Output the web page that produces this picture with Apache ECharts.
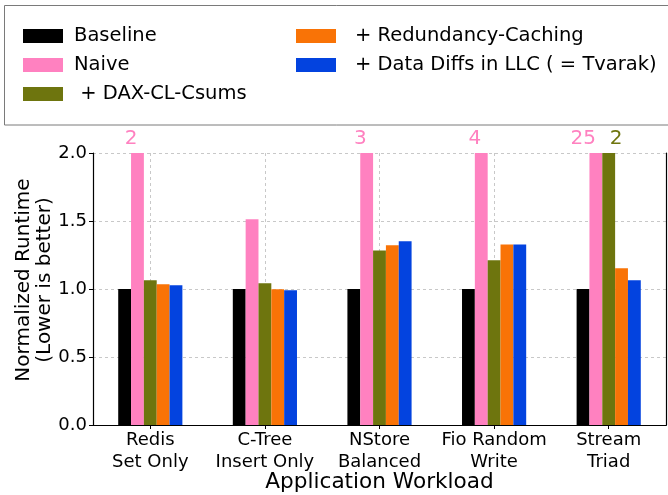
<!DOCTYPE html>
<html>
<head>
<meta charset="utf-8">
<script src="https://cdn.jsdelivr.net/npm/echarts@6/dist/echarts.min.js"></script>
<style>html,body{margin:0;padding:0;background:#fff;}#c{width:668px;height:495px;}</style>
</head>
<body>
<div id="c"></div>
<script>
const categories = ['Redis\nSet Only', 'C-Tree\nInsert Only', 'NStore\nBalanced', 'Fio Random\nWrite', 'Stream\nTriad'];
const seriesNames = ['Baseline', 'Naive', ' + DAX-CL-Csums', '+ Redundancy-Caching', '+ Data Diffs in LLC ( = Tvarak)'];
const baseline = [1.0, 1.0, 1.0, 1.0, 1.0];
const naive = [2, 1.513, 3, 4, 25];
const daxClCsums = [1.064, 1.042, 1.284, 1.211, 2];
const redundancyCaching = [1.035, 0.998, 1.321, 1.328, 1.152];
const dataDiffs = [1.027, 0.990, 1.351, 1.328, 1.064];
const yTicks = [0.0, 0.5, 1.0, 1.5, 2.0];
const colors = ['#000000', '#ff81c0', '#6e750e', '#f97306', '#0343df'];
const Y_MAX = 2.0;

const font = 'DejaVu Sans';
const allData = [baseline, naive, daxClCsums, redundancyCaching, dataDiffs];

function mkSeries(i) {
  const raw = allData[i];
  const s = {
    name: seriesNames[i],
    type: 'bar',
    data: raw.map(v => Math.min(v, Y_MAX)),
    itemStyle: { color: colors[i] },
    barGap: '0%',
    barCategoryGap: '44%',
    z: 3
  };
  if (i === 1 || i === 2) {
    s.label = {
      show: true,
      position: 'top',
      distance: 4,
      align: i === 1 ? 'right' : 'left',
      offset: i === 1 ? [0, 0] : [1, 0],
      fontFamily: font,
      fontSize: 20,
      color: colors[i],
      formatter: p => (raw[p.dataIndex] >= Y_MAX ? String(Math.round(raw[p.dataIndex])) : '')
    };
  }
  return s;
}

const chart = echarts.init(document.getElementById('c'), null, { renderer: 'canvas' });
chart.setOption({
  animation: false,
  backgroundColor: '#fff',
  graphic: [{
    type: 'rect',
    shape: { x: 4.5, y: 5.5, width: 700, height: 119.5 },
    style: { fill: 'none', stroke: '#7a7a7a', lineWidth: 1 },
    z: 0
  }],
  legend: [{
    data: seriesNames.slice(0, 3),
    orient: 'vertical',
    left: 18,
    top: 20,
    itemWidth: 40,
    itemHeight: 14,
    itemGap: 7,
    icon: 'rect',
    textStyle: { fontFamily: font, fontSize: 19.5, color: '#000', padding: [0, 0, 0, 6], lineHeight: 22 },
    selectedMode: false
  }, {
    data: seriesNames.slice(3),
    orient: 'vertical',
    left: 291,
    top: 20,
    itemWidth: 40,
    itemHeight: 14,
    itemGap: 7,
    icon: 'rect',
    textStyle: { fontFamily: font, fontSize: 19.5, color: '#000', padding: [0, 0, 0, 14], lineHeight: 22 },
    selectedMode: false
  }],
  grid: { left: 93, right: 2, top: 153, bottom: 70, containLabel: false, outerBoundsMode: 'none' },
  xAxis: [{
    type: 'category',
    data: categories,
    name: 'Application Workload',
    nameLocation: 'middle',
    nameGap: 46,
    nameMoveOverlap: false,
    nameTextStyle: { fontFamily: font, fontSize: 21.6, color: '#000' },
    axisLine: { show: true, lineStyle: { color: '#000', width: 1.2 } },
    axisTick: { show: true, alignWithLabel: true, interval: 0, length: 4, lineStyle: { color: '#000' } },
    axisLabel: { interval: 0, fontFamily: font, fontSize: 18, color: '#000', lineHeight: 22, margin: 4 },
    splitLine: { show: true, interval: 0, alignWithLabel: true, lineStyle: { color: '#c8c8c8', type: [3, 3], width: 1 } }
  }, {
    type: 'category',
    data: categories,
    position: 'top',
    axisLine: { show: true, lineStyle: { color: '#000', width: 1.2 } },
    axisTick: { show: false },
    axisLabel: { show: false },
    splitLine: { show: false }
  }],
  yAxis: [{
    type: 'value',
    min: 0,
    max: Y_MAX,
    interval: 0.5,
    name: 'Normalized Runtime\n(Lower is better)',
    nameLocation: 'middle',
    nameGap: 38,
    nameMoveOverlap: false,
    nameRotate: 90,
    nameTextStyle: { fontFamily: font, fontSize: 20, color: '#000', lineHeight: 21, padding: [0, 0, 0, 18] },
    axisLine: { show: true, lineStyle: { color: '#000', width: 1.2 } },
    axisTick: { show: true, length: 4, lineStyle: { color: '#000' } },
    axisLabel: { fontFamily: font, fontSize: 18, color: '#000', margin: 6, formatter: v => yTicks.includes(v) ? v.toFixed(1) : '' },
    splitLine: { show: true, lineStyle: { color: '#c8c8c8', type: [3, 3], width: 1 } }
  }, {
    type: 'value',
    min: 0,
    max: Y_MAX,
    interval: 0.5,
    position: 'right',
    axisLine: { show: true, lineStyle: { color: '#000', width: 1.2 } },
    axisTick: { show: false },
    axisLabel: { show: false },
    splitLine: { show: false }
  }],
  series: [0, 1, 2, 3, 4].map(mkSeries)
});
</script>
</body>
</html>
